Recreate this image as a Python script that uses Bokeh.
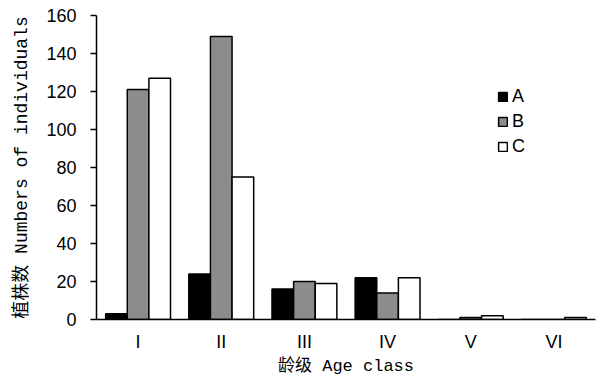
from bokeh.plotting import figure
from bokeh.models import FactorRange, Range1d, Legend, LegendItem, ColumnDataSource, FixedTicker
from bokeh.transform import dodge
from bokeh.embed import file_html
from bokeh.resources import INLINE

categories = ["I", "II", "III", "IV", "V", "VI"]
series_a = [3, 24, 16, 22, 0, 0]
series_b = [121, 149, 20, 14, 1, 0]
series_c = [127, 75, 19, 22, 2, 1]
y_ticks = [0, 20, 40, 60, 80, 100, 120, 140, 160]

src = ColumnDataSource(dict(cat=categories, a=series_a, b=series_b, c=series_c))

MIX = "'Liberation Mono', 'Noto Sans CJK SC'"

p = figure(width=596, height=379, output_backend="svg", toolbar_location=None,
           x_range=FactorRange(factors=categories, range_padding=0),
           y_range=Range1d(0, 160),
           min_border_left=96, min_border_right=1, min_border_top=15, min_border_bottom=60)

p.outline_line_color = None
p.xgrid.visible = False
p.ygrid.visible = False

w = 0.26
ra = p.vbar(x=dodge("cat", -w, range=p.x_range), top="a", width=w, source=src,
            fill_color="black", line_color="black", line_width=1.5)
rb = p.vbar(x=dodge("cat", 0, range=p.x_range), top="b", width=w, source=src,
            fill_color="#8c8c8c", line_color="black", line_width=1.5)
rc = p.vbar(x=dodge("cat", w, range=p.x_range), top="c", width=w, source=src,
            fill_color="white", line_color="black", line_width=1.5)

# axes
p.yaxis.ticker = FixedTicker(ticks=y_ticks)
p.yaxis.minor_tick_line_color = None
p.yaxis.major_tick_out = 6
p.yaxis.major_tick_in = 0
p.yaxis.major_tick_line_color = "black"
p.yaxis.major_tick_line_width = 1.5
p.yaxis.axis_line_color = "black"
p.yaxis.axis_line_width = 1.5
p.yaxis.major_label_text_font = "Liberation Sans"
p.yaxis.major_label_text_font_size = "18px"
p.yaxis.major_label_text_color = "black"
p.yaxis.major_label_standoff = 14
p.yaxis.axis_label = "植株数 Numbers of individuals"
p.yaxis.axis_label_text_font = MIX
p.yaxis.axis_label_text_font_style = "normal"
p.yaxis.axis_label_text_font_size = "18px"
p.yaxis.axis_label_text_color = "black"
p.yaxis.axis_label_standoff = 11

p.xaxis.major_tick_line_color = None
p.xaxis.minor_tick_line_color = None
p.xaxis.major_tick_out = 0
p.xaxis.axis_line_color = "black"
p.xaxis.axis_line_width = 1.5
p.xaxis.major_label_text_font = "Liberation Sans"
p.xaxis.major_label_text_font_size = "18px"
p.xaxis.major_label_text_color = "black"
p.xaxis.major_label_standoff = 12
p.xaxis.axis_label = "龄级 Age class"
p.xaxis.axis_label_text_font = MIX
p.xaxis.axis_label_text_font_style = "normal"
p.xaxis.axis_label_text_font_size = "17px"
p.xaxis.axis_label_text_color = "black"
p.xaxis.axis_label_standoff = 2

legend = Legend(items=[LegendItem(label="A", renderers=[ra]),
                       LegendItem(label="B", renderers=[rb]),
                       LegendItem(label="C", renderers=[rc])],
                location=(401, 162), orientation="vertical",
                glyph_width=11, glyph_height=11, label_height=20, spacing=4,
                padding=0, margin=0, border_line_color=None, background_fill_alpha=0,
                label_text_font="Liberation Sans", label_text_font_size="18px",
                label_text_color="black", label_standoff=4)
p.add_layout(legend, "center")

open("out.html", "w").write(file_html(p, INLINE))
